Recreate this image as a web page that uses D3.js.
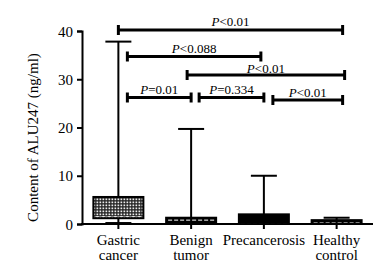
<!DOCTYPE html>
<html>
<head>
<meta charset="utf-8">
<script src="https://cdn.jsdelivr.net/npm/d3@7"></script>
<style>
  html, body { margin: 0; padding: 0; background: #fff; }
  svg { display: block; }
  text { font-family: "Liberation Serif", "DejaVu Serif", serif; fill: #000; }
</style>
</head>
<body>
<div id="chart"></div>
<script>
// box plot values (ng/ml)
const categories = [["Gastric", "cancer"], ["Benign", "tumor"], ["Precancerosis"], ["Healthy", "control"]]
const mins    = [0.2, 0.0, 0.1, 0.0]
const q1s     = [1.2, 0.2, 0.3, 0.1]
const medians = [1.5, 0.8, 0.3, 0.3]
const q3s     = [5.6, 1.3, 2.0, 0.8]
const maxs    = [37.8, 19.7, 10.0, 1.3]
const yTicks  = [0, 10, 20, 30, 40]

// pairwise comparisons: [group a, group b, operator, p value]
const comparisons = [
    [0, 3, "<", "0.01"],
    [0, 2, "<", "0.088"],
    [1, 3, "<", "0.01"],
    [0, 1, "=", "0.01"],
    [1, 2, "=", "0.334"],
    [2, 3, "<", "0.01"]
]

const width = 389, height = 274
const plot = {left: 82, right: 373, top: 31, bottom: 224}

// bracket layout: y in px, end nudges in px, label lift
const bracketLayout = [
    {y: 30, dl: 0, dr: 6, ly: 4},
    {y: 56.5, dl: 9, dr: -3, ly: 4},
    {y: 75, dl: -4, dr: 8, ly: 2},
    {y: 97.5, dl: 9, dr: 0, ly: 4},
    {y: 97.5, dl: 8, dr: 0, ly: 3.5},
    {y: 100, dl: 9, dr: 6, ly: 3.5}
]

const svg = d3.select('#chart')
            .append('svg')
                .attr('width', width)
                .attr('height', height)

const defs = svg.append('defs')
const pat = defs.append('pattern')
            .attr('id', 'dots')
            .attr('width', 3).attr('height', 3)
            .attr('patternUnits', 'userSpaceOnUse')
pat.append('rect').attr('width', 3).attr('height', 3).attr('fill', '#222')
pat.append('rect').attr('x', 0.5).attr('y', 0.5).attr('width', 1.7).attr('height', 1.7).attr('fill', '#ececec')

const names = categories.map(c => c.join(' '))
const xScale = d3.scaleBand()
            .domain(names)
            .range([plot.left, plot.right])
const cx = i => xScale(names[i]) + xScale.bandwidth() / 2

const yScale = d3.scaleLinear()
            .domain([0, 40])
            .range([plot.bottom, plot.top])

// y axis
const yAxis = svg.append('g')
            .attr('transform', `translate(${plot.left},0)`)
            .call(d3.axisLeft(yScale).tickValues(yTicks).tickSize(5).tickPadding(4))
yAxis.select('.domain').attr('stroke-width', 2)
yAxis.selectAll('.tick line').attr('stroke-width', 2)
yAxis.selectAll('.tick text')
    .style('font-family', '"Liberation Serif", serif')
    .style('font-size', '15px')
    .attr('dy', '0.34em')

// x axis
svg.append('line')
    .attr('x1', plot.left - 1).attr('x2', plot.right)
    .attr('y1', plot.bottom).attr('y2', plot.bottom)
    .attr('stroke', '#000').attr('stroke-width', 2)

svg.selectAll('.xtick')
    .data(categories)
    .join('line')
        .attr('class', 'xtick')
        .attr('x1', (d, i) => cx(i)).attr('x2', (d, i) => cx(i))
        .attr('y1', plot.bottom).attr('y2', plot.bottom + 5)
        .attr('stroke', '#000').attr('stroke-width', 2)

svg.selectAll('.xlabel')
    .data(categories)
    .join('text')
        .attr('class', 'xlabel')
        .attr('x', (d, i) => cx(i))
        .attr('y', 245)
        .attr('text-anchor', 'middle')
        .style('font-size', '15px')
        .each(function (d, i) {
            d3.select(this).selectAll('tspan')
                .data(d)
                .join('tspan')
                    .attr('x', cx(i))
                    .attr('dy', (t, j) => j === 0 ? 0 : 15)
                    .text(t => t)
        })

// y title
svg.append('text')
    .attr('transform', `translate(38,${(plot.top + plot.bottom) / 2 + 10}) rotate(-90)`)
    .attr('text-anchor', 'middle')
    .style('font-size', '15px')
    .text('Content of ALU247 (ng/ml)')

// boxes
const boxW = 50, capW = 26
const boxFill = ['url(#dots)', '#000', '#000', '#000']
const boxes = svg.selectAll('.box')
            .data(names)
            .join('g')
                .attr('class', 'box')

boxes.append('line')
    .attr('x1', (d, i) => cx(i)).attr('x2', (d, i) => cx(i))
    .attr('y1', (d, i) => yScale(maxs[i])).attr('y2', (d, i) => yScale(mins[i]))
    .attr('stroke', '#000').attr('stroke-width', 2)
boxes.append('line')
    .attr('x1', (d, i) => cx(i) - capW / 2).attr('x2', (d, i) => cx(i) + capW / 2)
    .attr('y1', (d, i) => yScale(maxs[i])).attr('y2', (d, i) => yScale(maxs[i]))
    .attr('stroke', '#000').attr('stroke-width', 2)
boxes.append('line')
    .attr('x1', (d, i) => cx(i) - capW / 2).attr('x2', (d, i) => cx(i) + capW / 2)
    .attr('y1', (d, i) => yScale(mins[i])).attr('y2', (d, i) => yScale(mins[i]))
    .attr('stroke', '#000').attr('stroke-width', 2)
boxes.append('rect')
    .attr('x', (d, i) => cx(i) - boxW / 2)
    .attr('width', boxW)
    .attr('y', (d, i) => yScale(q3s[i]))
    .attr('height', (d, i) => Math.max(1, yScale(q1s[i]) - yScale(q3s[i])))
    .attr('fill', (d, i) => boxFill[i])
boxes.append('line')
    .attr('x1', (d, i) => cx(i) - boxW / 2 + 2).attr('x2', (d, i) => cx(i) + boxW / 2 - 2)
    .attr('y1', (d, i) => yScale(medians[i])).attr('y2', (d, i) => yScale(medians[i]))
    .attr('stroke', '#fff').attr('stroke-width', 1)
    .attr('stroke-dasharray', '4,2')
boxes.append('rect')
    .attr('x', (d, i) => cx(i) - boxW / 2)
    .attr('width', boxW)
    .attr('y', (d, i) => yScale(q3s[i]))
    .attr('height', (d, i) => Math.max(1, yScale(q1s[i]) - yScale(q3s[i])))
    .attr('fill', 'none')
    .attr('stroke', '#000').attr('stroke-width', 2)

// significance brackets
const br = svg.selectAll('.bracket')
            .data(comparisons)
            .join('g')
                .attr('class', 'bracket')
const bx1 = (d, i) => cx(d[0]) + bracketLayout[i].dl
const bx2 = (d, i) => cx(d[1]) + bracketLayout[i].dr
br.append('line')
    .attr('x1', bx1).attr('x2', bx2)
    .attr('y1', (d, i) => bracketLayout[i].y).attr('y2', (d, i) => bracketLayout[i].y)
    .attr('stroke', '#000').attr('stroke-width', 3)
br.append('line')
    .attr('x1', bx1).attr('x2', bx1)
    .attr('y1', (d, i) => bracketLayout[i].y - 5).attr('y2', (d, i) => bracketLayout[i].y + 5)
    .attr('stroke', '#000').attr('stroke-width', 3)
br.append('line')
    .attr('x1', bx2).attr('x2', bx2)
    .attr('y1', (d, i) => bracketLayout[i].y - 5).attr('y2', (d, i) => bracketLayout[i].y + 5)
    .attr('stroke', '#000').attr('stroke-width', 3)
const lab = br.append('text')
    .attr('x', (d, i) => (bx1(d, i) + bx2(d, i)) / 2)
    .attr('y', (d, i) => bracketLayout[i].y - bracketLayout[i].ly)
    .attr('text-anchor', 'middle')
    .style('font-size', '13px')
lab.append('tspan').style('font-style', 'italic').text('P')
lab.append('tspan').text(d => d[2] + d[3])
</script>
</body>
</html>
